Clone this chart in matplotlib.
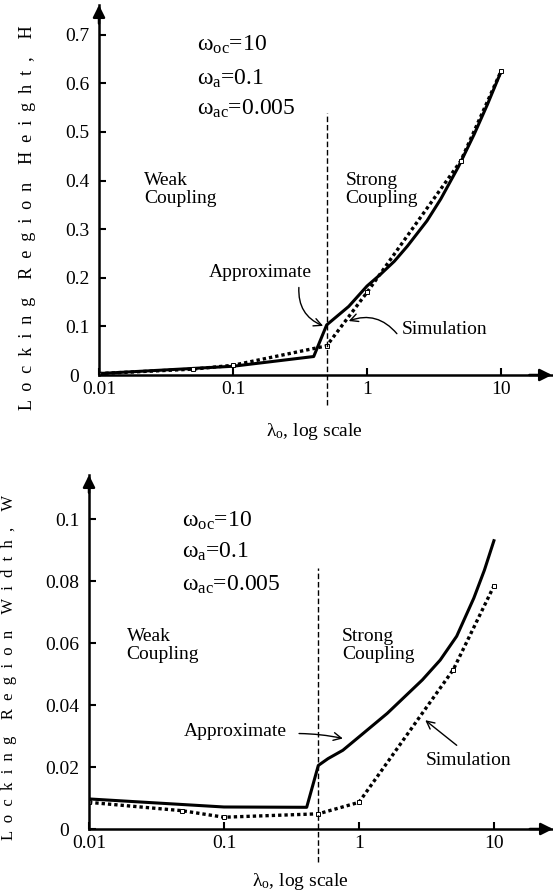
import numpy as np
import matplotlib
matplotlib.use('Agg')
import matplotlib.pyplot as plt
import matplotlib.transforms as mtransforms

plt.rcParams['font.family'] = ['Liberation Serif', 'DejaVu Serif']
plt.rcParams['mathtext.fontset'] = 'custom'
plt.rcParams['mathtext.rm'] = 'Liberation Serif'
plt.rcParams['mathtext.it'] = 'Liberation Serif:italic'

# locking region height, H
lam_h_approx = [0.01, 0.1, 0.4, 0.5, 0.73, 1.0, 1.26, 1.6, 2.0, 2.8, 3.55, 4.8, 6.3, 7.9, 10]
h_approx = [0.003, 0.018, 0.038, 0.103, 0.141, 0.183, 0.207, 0.234, 0.265, 0.317, 0.362,
            0.428, 0.495, 0.556, 0.624]
lam_h_sim = [0.01, 0.05, 0.1, 0.5, 1, 5, 10]
h_sim = [0.003, 0.012, 0.02, 0.06, 0.17, 0.44, 0.625]

# locking region width, W
lam_w_approx = [0.01, 0.1, 0.41, 0.5, 0.59, 0.76, 1.0, 1.62, 2.95, 4.0, 5.3, 7.1, 8.5, 10]
w_approx = [0.0097, 0.0071, 0.0070, 0.0205, 0.0227, 0.0254, 0.0297, 0.0373, 0.0481, 0.0545,
            0.0622, 0.0745, 0.0835, 0.093]
lam_w_sim = [0.01, 0.049, 0.1, 0.5, 1, 5, 10]
w_sim = [0.0086, 0.0059, 0.0038, 0.0049, 0.0086, 0.0514, 0.0784]

xticks = [0.01, 0.1, 1, 10]
xtick_labels = ['0.01', '0.1', '1', '10']
h_ticks = [0, 0.1, 0.2, 0.3, 0.4, 0.5, 0.6, 0.7]
h_tick_labels = ['0', '0.1', '0.2', '0.3', '0.4', '0.5', '0.6', '0.7']
w_ticks = [0, 0.02, 0.04, 0.06, 0.08, 0.1]
w_tick_labels = ['0', '0.02', '0.04', '0.06', '0.08', '0.1']

params = ['ω$_{\\mathrm{oc}}$=10', 'ω$_{\\mathrm{a}}$=0.1', 'ω$_{\\mathrm{ac}}$=0.005']

W, H = 553, 894
fig = plt.figure(figsize=(W / 100, H / 100), dpi=100)


def px(x0, y0, x1, y1):
    return [x0 / W, 1 - y1 / H, (x1 - x0) / W, (y1 - y0) / H]


def spaced(label):
    return '    '.join('  '.join(word) for word in label.split(' '))


def setup(ax, xmax, ymax, yticks, ylabels):
    ax.set_xscale('log')
    ax.set_xlim(0.01, xmax)
    ax.set_ylim(0, ymax)
    ax.spines['top'].set_visible(False)
    ax.spines['right'].set_visible(False)
    ax.spines['left'].set_linewidth(1.8)
    ax.spines['bottom'].set_linewidth(1.8)
    ax.set_xticks(xticks, xtick_labels)
    ax.xaxis.set_minor_locator(matplotlib.ticker.NullLocator())
    ax.set_yticks(yticks, ylabels)
    ax.tick_params(direction='in', length=5, width=1.5, labelsize=14)
    ax.tick_params(axis='x', pad=4)
    ax.tick_params(axis='y', pad=7)
    ax.patch.set_visible(False)
    # the "0" label sits a bit further left, clear of "0.01"
    zero = ax.get_yticklabels()[0]
    zero.set_transform(zero.get_transform() +
                       mtransforms.ScaledTranslation(-10 / 100, 0, fig.dpi_scale_trans))
    # arrow heads on axes
    ax.annotate('', xy=(1.0, 0), xytext=(0.95, 0), xycoords='axes fraction',
                arrowprops=dict(arrowstyle='-|>', color='k', lw=1.8, mutation_scale=18,
                                shrinkA=0, shrinkB=0))
    ax.annotate('', xy=(0, 1.0), xytext=(0, 0.95), xycoords='axes fraction',
                arrowprops=dict(arrowstyle='-|>', color='k', lw=1.8, mutation_scale=18,
                                shrinkA=0, shrinkB=0))


# ---- top panel ----
ax1 = fig.add_axes(px(99, 5, 552, 375))
setup(ax1, 24, 0.761, h_ticks, h_tick_labels)
ax1.plot(lam_h_approx, h_approx, color='k', lw=2.2, solid_joinstyle='round')
ax1.plot(lam_h_sim, h_sim, color='k', lw=2.4, linestyle=(0, (1, 0.9)),
         marker='s', ms=2.2, mfc='white', mec='k', mew=0.7)
ax1.plot([0.5, 0.5], [-0.062, 0.538], color='k', lw=1, linestyle=(0, (4, 2)), clip_on=False)
for i, s in enumerate(params):
    ax1.text(0.054, [0.679, 0.610, 0.548][i], s, fontsize=17, va='center', ha='left')
ax1.text(0.0216, 0.381, 'Weak\nCoupling', fontsize=14, va='center', ha='left', linespacing=1.05)
ax1.text(0.69, 0.381, 'Strong\nCoupling', fontsize=14, va='center', ha='left', linespacing=1.05)
ax1.text(0.0665, 0.210, 'Approximate', fontsize=14, va='center', ha='left')
ax1.annotate('', xy=(0.47, 0.101), xytext=(0.31, 0.18),
             arrowprops=dict(arrowstyle='->', color='k', lw=1.0, mutation_scale=14,
                             connectionstyle='arc3,rad=0.35', shrinkA=0, shrinkB=0))
ax1.text(1.82, 0.093, 'Simulation', fontsize=14, va='center', ha='left')
ax1.annotate('', xy=(0.73, 0.111), xytext=(1.67, 0.085),
             arrowprops=dict(arrowstyle='->', color='k', lw=1.0, mutation_scale=14,
                             connectionstyle='arc3,rad=0.35', shrinkA=0, shrinkB=0))
ax1.set_ylabel(spaced('Locking Region Height, H'), fontsize=13)
ax1.yaxis.set_label_coords(-0.14, 0.424)
fig.text(314 / W, 1 - 432 / H, 'λ$_{\\mathrm{o}}$, log scale', fontsize=14, ha='center', va='center')

# ---- bottom panel ----
ax2 = fig.add_axes(px(89, 475, 553, 829))
setup(ax2, 27.4, 0.1142, w_ticks, w_tick_labels)
ax2.plot(lam_w_approx, w_approx, color='k', lw=2.2, solid_joinstyle='round')
ax2.plot(lam_w_sim, w_sim, color='k', lw=2.4, linestyle=(0, (1, 0.9)),
         marker='s', ms=2.2, mfc='white', mec='k', mew=0.7)
ax2.plot([0.5, 0.5], [-0.0108, 0.0843], color='k', lw=1, linestyle=(0, (4, 2)), clip_on=False)
for i, s in enumerate(params):
    ax2.text(0.049, [0.0995, 0.0895, 0.0789][i], s, fontsize=17, va='center', ha='left')
ax2.text(0.019, 0.0592, 'Weak\nCoupling', fontsize=14, va='center', ha='left', linespacing=1.05)
ax2.text(0.75, 0.0592, 'Strong\nCoupling', fontsize=14, va='center', ha='left', linespacing=1.05)
ax2.text(0.05, 0.0314, 'Approximate', fontsize=14, va='center', ha='left')
ax2.annotate('', xy=(0.76, 0.0292), xytext=(0.36, 0.0308),
             arrowprops=dict(arrowstyle='->', color='k', lw=1.0, mutation_scale=14,
                             connectionstyle='arc3,rad=-0.05', shrinkA=0, shrinkB=0))
ax2.text(3.1, 0.0222, 'Simulation', fontsize=14, va='center', ha='left')
ax2.annotate('', xy=(3.1, 0.0351), xytext=(5.3, 0.027),
             arrowprops=dict(arrowstyle='->', color='k', lw=1.0, mutation_scale=14,
                             shrinkA=0, shrinkB=0))
ax2.set_ylabel(spaced('Locking Region Width, W'), fontsize=12)
ax2.yaxis.set_label_coords(-0.155, 0.455)
fig.text(300 / W, 1 - 882 / H, 'λ$_{\\mathrm{o}}$, log scale', fontsize=14, ha='center', va='center')

fig.savefig('out.png', dpi=100)
